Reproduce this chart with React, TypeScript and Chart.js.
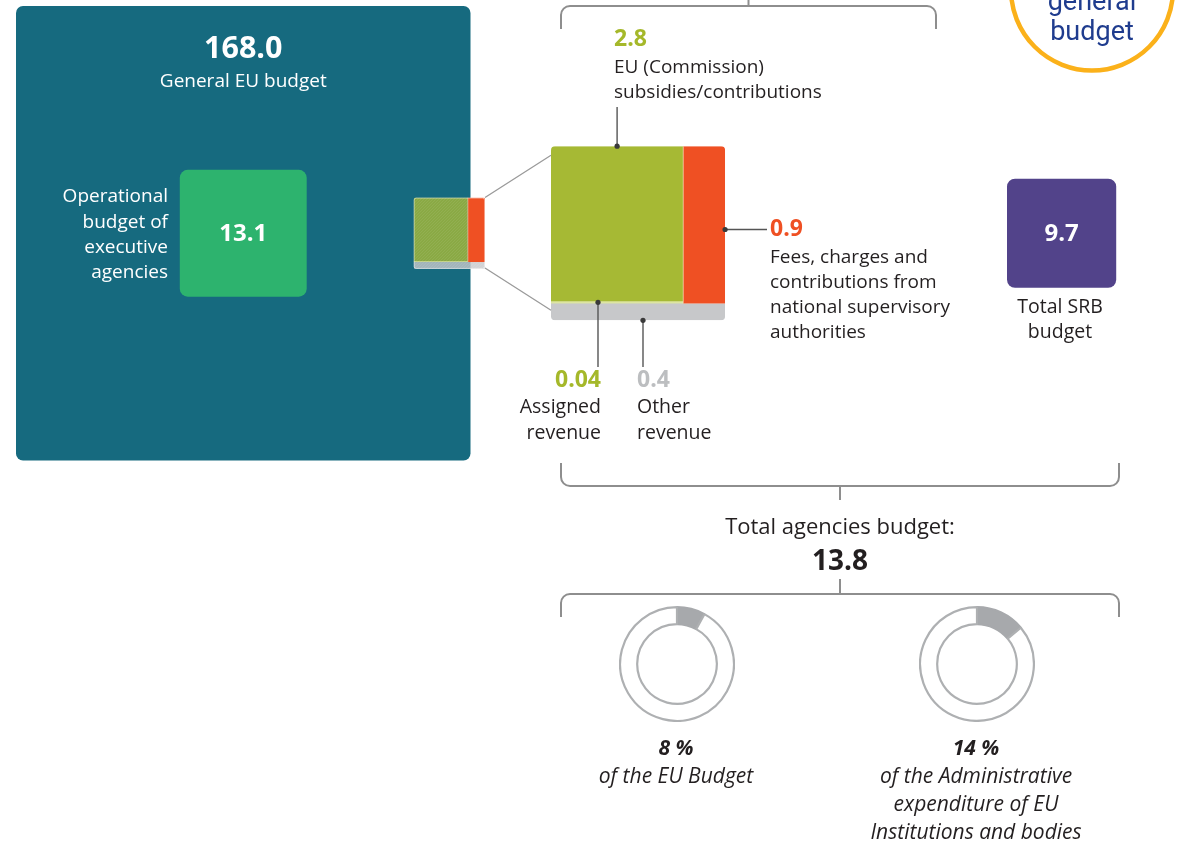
import { useEffect, useRef } from 'react';
import { Chart, registerables } from 'chart.js';

Chart.register(...registerables);

// ---------------- DATA ----------------
const generalBudget = 168.0;
const generalLabel = 'General EU budget';
const executiveBudget = 13.1;
const executiveLabel = ['Operational', 'budget of', 'executive', 'agencies'];
const revenueCategories = ['EU (Commission) subsidies/contributions', 'Fees, charges and contributions from national supervisory authorities', 'Assigned revenue', 'Other revenue'];
const revenueValues = [2.8, 0.9, 0.04, 0.4];
const revenueLabelLines = [
  ['EU (Commission)', 'subsidies/contributions'],
  ['Fees, charges and', 'contributions from', 'national supervisory', 'authorities'],
  ['Assigned', 'revenue'],
  ['Other', 'revenue'],
];
const srbBudget = 9.7;
const srbLabel = ['Total SRB', 'budget'];
const totalAgenciesLabel = 'Total agencies budget:';
const totalAgenciesBudget = 13.8;
const sharePercents = [8, 14];
const shareLabels = [
  ['of the EU Budget'],
  ['of the Administrative', 'expenditure of EU', 'Institutions and bodies'],
];
const badgeLines = ['general', 'budget'];

// ---------------- STYLE / LAYOUT ----------------
const FONT = "'Open Sans', 'Noto Sans', sans-serif";
const C = {
  teal: '#166a7f',
  exec: '#2db36e',
  olive: '#a6b934',
  strip: '#dde5a2',
  orange: '#ef5023',
  gray: '#c7c8ca',
  purple: '#52438a',
  text: '#231f20',
  labelGreen: '#a5b82a',
  labelOrange: '#ef5023',
  labelGray: '#bcbec0',
  bracket: '#8e8e8e',
  callout: '#555555',
  ring: '#fbb11a',
  blue: '#1f3c8e',
  donutFill: '#a7a9ac',
  donutLine: '#aeb0b2',
};
const L = {
  generalX: 16, generalY: 6, generalSide: 454.5, generalRadius: 7,
  execRadius: 8,
  rowCenterY: 233.25,
  smallRight: 485,
  zoom: 2.44,
  bigLeft: 551, bigRadius: 4,
  srbLeft: 1007, srbRadius: 8,
  donutCenters: [677, 977], donutCenterY: 664, donutSize: 116,
};

function fmt(v: number, digits?: number) {
  return digits !== undefined ? v.toFixed(digits) : String(v);
}

function drawText(ctx: CanvasRenderingContext2D, s: string, x: number, y: number, size: number, color: string, align: CanvasTextAlign = 'left', weight = '400', style = 'normal', family = FONT) {
  ctx.save();
  ctx.font = `${style} ${weight} ${size}px ${family}`;
  ctx.fillStyle = color;
  ctx.textAlign = align;
  ctx.textBaseline = 'alphabetic';
  ctx.fillText(s, x, y);
  ctx.restore();
}

function bracket(ctx: CanvasRenderingContext2D, x1: number, x2: number, y: number, endY: number, r: number) {
  const d = Math.sign(endY - y);
  ctx.beginPath();
  ctx.moveTo(x1, endY);
  ctx.lineTo(x1, y + d * r);
  ctx.arcTo(x1, y, x1 + r, y, r);
  ctx.lineTo(x2 - r, y);
  ctx.arcTo(x2, y, x2, y + d * r, r);
  ctx.lineTo(x2, endY);
  ctx.stroke();
}

function dot(ctx: CanvasRenderingContext2D, x: number, y: number) {
  ctx.beginPath();
  ctx.arc(x, y, 2.6, 0, Math.PI * 2);
  ctx.fill();
}

const infographic = {
  id: 'infographic',
  afterDraw(chart: any) {
    const ctx: CanvasRenderingContext2D = chart.ctx;
    const xs = chart.scales.x;
    const ys = chart.scales.y;
    const X = (v: number) => xs.getPixelForValue(v);
    const Y = (v: number) => ys.getPixelForValue(v);
    const W = (v: number) => X(v) - X(0);
    const H = (v: number) => Y(v) - Y(0);
    const sideOf = (v: number) => L.generalSide * Math.sqrt(v / generalBudget);

    ctx.save();

    // ---- General EU budget square ----
    const gs = sideOf(generalBudget);
    const gx = X(L.generalX), gy = Y(L.generalY);
    ctx.fillStyle = C.teal;
    ctx.beginPath();
    ctx.roundRect(gx, gy, W(gs), H(gs), L.generalRadius);
    ctx.fill();
    const gcx = X(L.generalX + gs / 2);
    drawText(ctx, fmt(generalBudget, 1), gcx, Y(58), 30.5, '#ffffff', 'center', '700');
    drawText(ctx, generalLabel, gcx, Y(87), 19, '#ffffff', 'center');

    // ---- executive agencies square ----
    const es = sideOf(executiveBudget);
    ctx.fillStyle = C.exec;
    ctx.beginPath();
    ctx.roundRect(X(L.generalX + gs / 2 - es / 2), Y(L.rowCenterY - es / 2), W(es), H(es), L.execRadius);
    ctx.fill();
    drawText(ctx, fmt(executiveBudget), gcx, Y(241), 24, '#ffffff', 'center', '700');
    const execBase = [202, 227.5, 253, 278.3];
    executiveLabel.forEach((s, i) => drawText(ctx, s, X(168), Y(execBase[i]), 19, '#ffffff', 'right'));

    // ---- revenue squares ----
    const [vCom, vFee, vAss, vOth] = revenueValues;
    const total = revenueValues.reduce((a, b) => a + b, 0);
    const drawRevenue = (left: number, top: number, side: number, radius: number, small: boolean) => {
      const bottomH = side * vOth / total;
      const topH = side - bottomH;
      const greenW = side * (vCom + vAss) / (vCom + vAss + vFee);
      const redW = side - greenW;
      const stripH = topH * vAss / (vCom + vAss);
      ctx.save();
      ctx.beginPath();
      ctx.roundRect(X(left), Y(top), W(side), H(side), radius);
      ctx.clip();
      ctx.globalAlpha = small ? 0.8 : 1;
      ctx.fillStyle = C.olive;
      ctx.fillRect(X(left), Y(top), W(greenW), H(topH));
      ctx.fillStyle = C.strip;
      ctx.fillRect(X(left), Y(top + topH - stripH), W(greenW), H(stripH));
      ctx.fillStyle = C.gray;
      ctx.fillRect(X(left), Y(top + topH), W(side), H(bottomH));
      if (small) {
        ctx.globalAlpha = 0.1;
        ctx.strokeStyle = '#ffffff';
        ctx.lineWidth = 1;
        for (let k = -side; k < side; k += 3) {
          ctx.beginPath();
          ctx.moveTo(X(left + k), Y(top + side));
          ctx.lineTo(X(left + k + side), Y(top));
          ctx.stroke();
        }
      }
      ctx.globalAlpha = 1;
      ctx.fillStyle = C.orange;
      ctx.fillRect(X(left + greenW), Y(top), W(redW), H(topH));
      ctx.globalAlpha = 0.55;
      ctx.fillStyle = '#f2f0c8';
      ctx.fillRect(X(left + greenW) - 0.5, Y(top), 1, H(topH));
      ctx.restore();
      if (small) {
        ctx.save();
        ctx.strokeStyle = 'rgba(255,255,255,0.45)';
        ctx.lineWidth = 1;
        ctx.beginPath();
        ctx.roundRect(X(left) + 0.5, Y(top) + 0.5, W(side) - 1, H(side) - 1, radius);
        ctx.stroke();
        ctx.restore();
      }
      return { topH, greenW, stripH };
    };

    const ss = sideOf(total);
    const smallLeft = L.smallRight - ss;
    const smallTop = L.rowCenterY - ss / 2;
    drawRevenue(smallLeft, smallTop, ss, 2, true);

    const bs = ss * L.zoom;
    const bigTop = L.rowCenterY - bs / 2;
    const bigLeft = L.bigLeft;
    const big = drawRevenue(bigLeft, bigTop, bs, L.bigRadius, false);

    // connectors
    ctx.strokeStyle = '#9a9a9a';
    ctx.lineWidth = 1.3;
    ctx.beginPath();
    ctx.moveTo(X(L.smallRight), Y(smallTop));
    ctx.lineTo(X(bigLeft), Y(bigTop + 9));
    ctx.moveTo(X(L.smallRight), Y(smallTop + ss - 1));
    ctx.lineTo(X(bigLeft), Y(bigTop + bs - 10));
    ctx.stroke();

    // callouts
    ctx.strokeStyle = C.callout;
    ctx.fillStyle = '#3a3a3a';
    ctx.lineWidth = 1.4;
    const comX = bigLeft + big.greenW / 2;
    ctx.beginPath();
    ctx.moveTo(X(comX), Y(bigTop)); ctx.lineTo(X(comX), Y(107));
    ctx.stroke();
    dot(ctx, X(comX), Y(bigTop));
    const feeY = 229.5;
    ctx.beginPath();
    ctx.moveTo(X(bigLeft + bs), Y(feeY)); ctx.lineTo(X(767), Y(feeY));
    ctx.stroke();
    dot(ctx, X(bigLeft + bs), Y(feeY));
    const assX = bigLeft + 47;
    const assY = bigTop + big.topH - big.stripH / 2;
    ctx.beginPath();
    ctx.moveTo(X(assX), Y(assY)); ctx.lineTo(X(assX), Y(367));
    ctx.stroke();
    dot(ctx, X(assX), Y(assY));
    const othX = bigLeft + 92;
    ctx.beginPath();
    ctx.moveTo(X(othX), Y(bigTop + bs)); ctx.lineTo(X(othX), Y(367));
    ctx.stroke();
    dot(ctx, X(othX), Y(bigTop + bs));

    // revenue labels
    drawText(ctx, fmt(vCom), X(614), Y(46), 23, C.labelGreen, 'left', '700');
    [72.7, 97.7].forEach((b, i) => drawText(ctx, revenueLabelLines[0][i], X(614), Y(b), 19, C.text));
    drawText(ctx, fmt(vFee), X(770), Y(236), 23, C.labelOrange, 'left', '700');
    [263.3, 288.3, 313.3, 338.3].forEach((b, i) => drawText(ctx, revenueLabelLines[1][i], X(770), Y(b), 19, C.text));
    drawText(ctx, fmt(vAss), X(601), Y(387), 23, C.labelGreen, 'right', '700');
    [413, 438.5].forEach((b, i) => drawText(ctx, revenueLabelLines[2][i], X(601), Y(b), 19.5, C.text, 'right'));
    drawText(ctx, fmt(vOth), X(637), Y(387), 23, C.labelGray, 'left', '700');
    [413, 438.5].forEach((b, i) => drawText(ctx, revenueLabelLines[3][i], X(637), Y(b), 19.5, C.text, 'left'));

    // ---- SRB square ----
    const ps = sideOf(srbBudget);
    ctx.fillStyle = C.purple;
    ctx.beginPath();
    ctx.roundRect(X(L.srbLeft), Y(L.rowCenterY - ps / 2), W(ps), H(ps), L.srbRadius);
    ctx.fill();
    drawText(ctx, fmt(srbBudget), X(L.srbLeft + ps / 2), Y(241), 24, '#ffffff', 'center', '700');
    [313.3, 338.3].forEach((b, i) => drawText(ctx, srbLabel[i], X(1060), Y(b), 19.5, C.text, 'center'));

    // ---- brackets ----
    ctx.strokeStyle = C.bracket;
    ctx.lineWidth = 2;
    bracket(ctx, X(561), X(936), Y(6), Y(29), 9);
    ctx.beginPath(); ctx.moveTo(X(748.5), Y(0)); ctx.lineTo(X(748.5), Y(6)); ctx.stroke();
    bracket(ctx, X(561), X(1119), Y(486), Y(463), 9);
    ctx.beginPath(); ctx.moveTo(X(840), Y(486)); ctx.lineTo(X(840), Y(500)); ctx.stroke();
    ctx.beginPath(); ctx.moveTo(X(840), Y(579)); ctx.lineTo(X(840), Y(594)); ctx.stroke();
    bracket(ctx, X(561), X(1119), Y(594), Y(617), 9);

    // ---- totals ----
    drawText(ctx, totalAgenciesLabel, X(840), Y(534), 22, C.text, 'center');
    drawText(ctx, fmt(totalAgenciesBudget), X(840), Y(570), 28, C.text, 'center', '700');

    // ---- share labels ----
    const shareBase = [783, 811, 839];
    sharePercents.forEach((p, i) => {
      const cx = X(L.donutCenters[i] - 1);
      drawText(ctx, `${p} %`, cx, Y(755), 21, C.text, 'center', '700', 'italic');
      shareLabels[i].forEach((s, j) => drawText(ctx, s, cx, Y(shareBase[j]), 21, C.text, 'center', '400', 'italic'));
    });

    // ---- badge ----
    ctx.strokeStyle = C.ring;
    ctx.lineWidth = 4.5;
    ctx.beginPath();
    ctx.arc(X(1092), Y(-10.5), W(81), 0, Math.PI * 2);
    ctx.stroke();
    drawText(ctx, badgeLines[0], X(1092), Y(9.5), 27, C.blue, 'center', '400', 'normal', "Roboto, 'Noto Sans', sans-serif");
    drawText(ctx, badgeLines[1], X(1092), Y(39.5), 27, C.blue, 'center', '400', 'normal', "Roboto, 'Noto Sans', sans-serif");

    ctx.restore();
  },
};

function donutConfig(p: number): any {
  return {
    type: 'doughnut',
    data: {
      labels: ['Agencies', 'Rest'],
      datasets: [{
        data: [p, 100 - p],
        backgroundColor: [C.donutFill, '#ffffff'],
        borderColor: [C.donutFill, C.donutLine],
        borderWidth: 2.2,
      }],
    },
    options: {
      animation: false,
      responsive: false,
      devicePixelRatio: 1,
      cutout: '70%',
      events: [],
      layout: { padding: 0 },
      plugins: { legend: { display: false }, tooltip: { enabled: false } },
    },
  };
}

export default function App() {
  const mainRef = useRef<HTMLCanvasElement>(null);
  const d0 = useRef<HTMLCanvasElement>(null);
  const d1 = useRef<HTMLCanvasElement>(null);

  useEffect(() => {
    const charts: Chart[] = [];
    charts.push(new Chart(mainRef.current as HTMLCanvasElement, {
      type: 'scatter',
      data: { datasets: [] },
      options: {
        animation: false,
        responsive: false,
        devicePixelRatio: 1,
        events: [],
        layout: { padding: 0 },
        scales: {
          x: { type: 'linear', min: 0, max: 1179, display: false },
          y: { type: 'linear', min: 0, max: 844, reverse: true, display: false },
        },
        plugins: { legend: { display: false }, tooltip: { enabled: false } },
      },
      plugins: [infographic],
    } as any));
    [d0, d1].forEach((r, i) => {
      charts.push(new Chart(r.current as HTMLCanvasElement, donutConfig(sharePercents[i])));
    });
    return () => charts.forEach((c) => c.destroy());
  }, []);

  const ds = L.donutSize;
  return (
    <div style={{ position: 'absolute', left: 0, top: 0, width: 1179, height: 844, background: '#ffffff', overflow: 'hidden' }}>
      <canvas ref={mainRef} width={1179} height={844} style={{ position: 'absolute', left: 0, top: 0 }} />
      {[d0, d1].map((r, i) => (
        <canvas
          key={i}
          ref={r}
          width={ds}
          height={ds}
          aria-label={revenueCategories.length ? shareLabels[i].join(' ') : ''}
          style={{ position: 'absolute', left: L.donutCenters[i] - ds / 2, top: L.donutCenterY - ds / 2 }}
        />
      ))}
    </div>
  );
}
